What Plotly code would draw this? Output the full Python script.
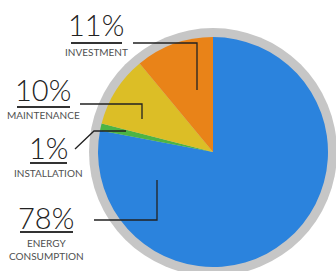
import plotly.graph_objects as go

# Data
categories = ["ENERGY<br>CONSUMPTION", "INSTALLATION", "MAINTENANCE", "INVESTMENT"]
values = [78, 1, 10, 11]
pct_labels = ["78%", "1%", "10%", "11%"]
colors = ["#2b83dd", "#4cb445", "#dcbe26", "#e98318"]

W, H = 336, 271


def px(x):
    return x / W


def py(y):
    return (H - y) / H


cx, cy, r_pie, r_ring = 213, 152, 115, 124

fig = go.Figure(go.Pie(
    labels=categories, values=values, sort=False, direction="clockwise",
    rotation=0, textinfo="none", hoverinfo="label+percent",
    marker=dict(colors=colors, line=dict(width=0)),
    domain=dict(x=[px(cx - r_pie), px(cx + r_pie)], y=[py(cy + r_pie), py(cy - r_pie)]),
    showlegend=False,
))

shapes = [dict(type="circle", xref="paper", yref="paper", layer="below",
               x0=px(cx - r_ring), x1=px(cx + r_ring),
               y0=py(cy + r_ring), y1=py(cy - r_ring),
               fillcolor="#c6c6c6", line=dict(width=0))]

# label layout: (pct center x, pct center y, underline x0, x1, underline y, category y)
label_pos = {
    "11%": (96, 25, 71, 122, 43, 52),
    "10%": (43, 89, 17, 70, 107, 115),
    "1%": (48, 148, 30, 67, 163, 173),
    "78%": (46, 217, 20, 73, 232, 249),
}
leaders = {
    "11%": [(133, 43), (197, 43), (197, 90)],
    "10%": [(80, 104), (142, 104), (142, 119)],
    "1%": [(75, 149), (94, 131), (126, 131)],
    "78%": [(94, 220), (157, 220), (157, 180)],
}

annotations = []
for cat, lab in zip(categories, pct_labels):
    x, y, ux0, ux1, uy, cyy = label_pos[lab]
    annotations.append(dict(x=px(x), y=py(y), xref="paper", yref="paper", text=lab,
                            showarrow=False, xanchor="center", yanchor="middle",
                            font=dict(family="Lato", size=29, color="#222222", weight=300)))
    annotations.append(dict(x=px(x), y=py(cyy), xref="paper", yref="paper", text=cat,
                            showarrow=False, xanchor="center", yanchor="middle",
                            font=dict(family="Lato", size=10, color="#505050")))
    shapes.append(dict(type="line", xref="paper", yref="paper",
                       x0=px(ux0), x1=px(ux1), y0=py(uy), y1=py(uy),
                       line=dict(color="#333333", width=2)))
    pts = leaders[lab]
    path = "M " + " L ".join(f"{px(a)},{py(b)}" for a, b in pts)
    shapes.append(dict(type="path", xref="paper", yref="paper", path=path,
                       line=dict(color="#222222", width=1.3)))

fig.update_layout(width=W, height=H, margin=dict(l=0, r=0, t=0, b=0),
                  paper_bgcolor="white", plot_bgcolor="white",
                  shapes=shapes, annotations=annotations)

fig.write_html("out.html", config={"displayModeBar": False},
               post_script="document.body.style.margin='0';document.body.style.overflow='hidden';")
